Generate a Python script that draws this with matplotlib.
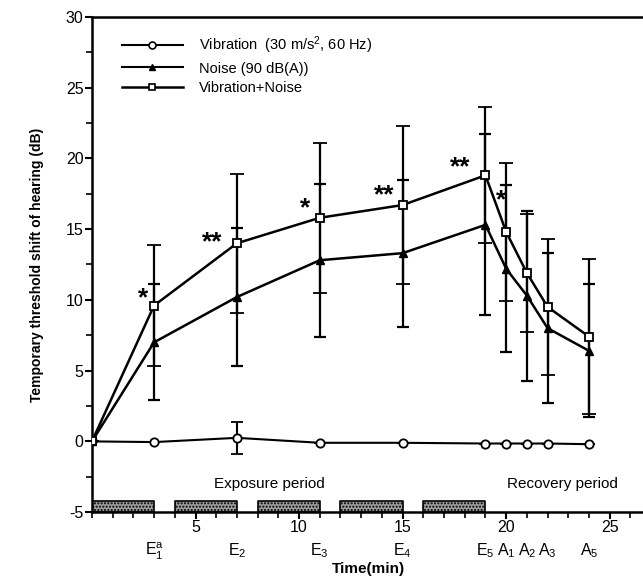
import matplotlib.pyplot as plt
from matplotlib.lines import Line2D
from matplotlib.ticker import MultipleLocator

# donnees
temps = [0, 3, 7, 11, 15, 19, 20, 21, 22, 24]
vibration = [0, -0.05, 0.25, -0.1, -0.1, -0.15, -0.15, -0.15, -0.15, -0.2]
vibration_err = [0, 0, 1.15, 0, 0, 0, 0, 0, 0, 0]
bruit = [0, 7.0, 10.2, 12.8, 13.3, 15.3, 12.2, 10.3, 8.0, 6.4]
bruit_err = [0, 4.1, 4.9, 5.4, 5.2, 6.4, 5.9, 6.0, 5.3, 4.7]
vib_bruit = [0, 9.6, 14.0, 15.8, 16.7, 18.8, 14.8, 11.9, 9.5, 7.4]
vib_bruit_err = [0, 4.3, 4.9, 5.3, 5.6, 4.8, 4.9, 4.2, 4.8, 5.5]

# periodes d'exposition (debut, duree)
expo_debut = [0, 4, 8, 12, 16]
expo_duree = 3

# etoiles de significativite (x, y, texte)
etoiles_x = [2.45, 5.8, 10.3, 14.1, 17.8, 19.75]
etoiles_y = [10.1, 14.1, 16.5, 17.4, 19.4, 17.0]
etoiles_txt = ['*', '**', '*', '**', '**', '*']

# etiquettes secondaires
mesures_x = [3, 7, 11, 15, 19, 20, 21, 22, 24]
mesures_lbl = ['E$_1^a$', 'E$_2$', 'E$_3$', 'E$_4$', 'E$_5$',
               'A$_1$', 'A$_2$', 'A$_3$', 'A$_5$']

plt.rcParams['font.family'] = ['Liberation Sans', 'DejaVu Sans']
plt.rcParams['mathtext.default'] = 'regular'
plt.rcParams['axes.unicode_minus'] = False

fig = plt.figure(figsize=(6.43, 5.8), dpi=100)
ax = fig.add_axes([0.143, 0.117, 0.86, 0.854])

ax.broken_barh([(d, expo_duree) for d in expo_debut], (-5, 0.8),
               facecolor='#a0a0a0', edgecolor='black', linewidth=1.2,
               hatch='.....', zorder=2)

ax.errorbar(temps, vibration, yerr=vibration_err, color='black', lw=1.5,
            marker='o', ms=6, mfc='white', mec='black', mew=1.3,
            capsize=4, elinewidth=1.5, capthick=1.5, zorder=4)
ax.errorbar(temps, bruit, yerr=bruit_err, color='black', lw=1.8,
            marker='^', ms=6, mfc='black', mec='black',
            capsize=4, elinewidth=1.6, capthick=1.6, zorder=4)
ax.errorbar(temps, vib_bruit, yerr=vib_bruit_err, color='black', lw=1.8,
            marker='s', ms=6, mfc='white', mec='black', mew=1.3,
            capsize=5, elinewidth=1.6, capthick=1.6, zorder=5)

for x, y, t in zip(etoiles_x, etoiles_y, etoiles_txt):
    ax.text(x, y, t, ha='center', va='center', fontsize=19, fontweight='bold')

ax.text(8.55, -3.0, 'Exposure period', ha='center', va='center', fontsize=11)
ax.text(22.7, -3.0, 'Recovery period', ha='center', va='center', fontsize=11)

for x, lbl in zip(mesures_x, mesures_lbl):
    ax.text(x, -0.058, lbl, transform=ax.get_xaxis_transform(),
            ha='center', va='top', fontsize=11.5)

ax.set_xlim(0, 26.7)
ax.set_ylim(-5, 30)
ax.xaxis.set_major_locator(MultipleLocator(5))
ax.xaxis.set_minor_locator(MultipleLocator(1))
ax.yaxis.set_major_locator(MultipleLocator(5))
ax.yaxis.set_minor_locator(MultipleLocator(2.5))
ax.set_xticks([5, 10, 15, 20, 25])
ax.tick_params(axis='both', which='major', direction='out', length=5, width=1.5, labelsize=11.5, pad=1)
ax.tick_params(axis='both', which='minor', direction='out', length=4, width=1.2)
ax.spines['right'].set_visible(False)
for s in ['left', 'bottom', 'top']:
    ax.spines[s].set_linewidth(1.8)

ax.set_xlabel('Time(min)', fontsize=11, fontweight='bold', labelpad=19)
ax.set_ylabel('Temporary threshold shift of hearing (dB)', fontsize=10, fontweight='bold', labelpad=16)

handles = [
    Line2D([], [], color='black', lw=1.5, marker='o', ms=5, mfc='white', mec='black', mew=1.2),
    Line2D([], [], color='black', lw=1.5, marker='^', ms=5, mfc='black', mec='black'),
    Line2D([], [], color='black', lw=1.8, marker='s', ms=5, mfc='white', mec='black', mew=1.2),
]
labels = ['Vibration  (30 m/s$^{2}$, 60 Hz)', 'Noise (90 dB(A))', 'Vibration+Noise']
ax.legend(handles, labels, loc='upper left', bbox_to_anchor=(0.03, 0.99), frameon=False,
          handlelength=4.2, fontsize=10.5, labelspacing=0.35, handletextpad=1.1)

fig.savefig('out.png', dpi=100)
